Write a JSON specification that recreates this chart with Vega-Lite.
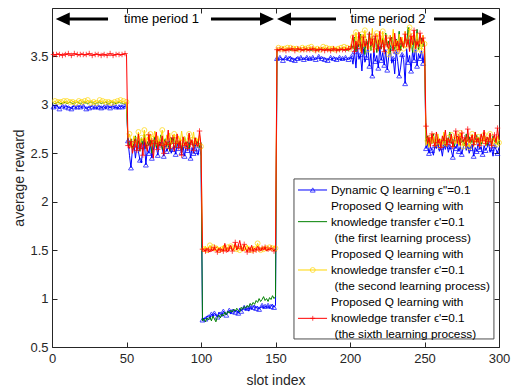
{
  "$schema": "https://vega.github.io/schema/vega-lite/v6.json",
  "width": 447,
  "height": 339,
  "autosize": {"type": "none"},
  "padding": {"left": 52, "top": 8, "right": 20, "bottom": 43},
  "background": "white",
  "config": {
    "view": {"stroke": null},
    "font": "Liberation Sans",
    "axis": {
      "grid": false,
      "domainColor": "#262626",
      "tickColor": "#262626",
      "labelColor": "#262626",
      "titleColor": "#262626",
      "labelFontSize": 13,
      "titleFontSize": 14,
      "titleFontWeight": "normal",
      "labelFont": "Liberation Sans",
      "titleFont": "Liberation Sans",
      "labelFlush": false,
      "labelOverlap": false,
      "zindex": 1
    }
  },
  "datasets": {
    "m": [
      {"x":1,"a":2.98,"b":3.02,"c":3.03,"d":3.52},{"x":2,"a":2.97,"b":3.01,"c":3.04,"d":3.51},{"x":3,"a":2.99,"b":3.02,"c":3.02,"d":3.52},{"x":4,"a":2.98,"b":3.03,"c":3.03,"d":3.53},{"x":5,"a":2.96,"b":3.02,"c":3.05,"d":3.52},
      {"x":6,"a":2.98,"b":3.01,"c":3.03,"d":3.52},{"x":7,"a":2.99,"b":3.02,"c":3.02,"d":3.51},{"x":8,"a":2.97,"b":3.02,"c":3.04,"d":3.53},{"x":9,"a":2.98,"b":3.03,"c":3.03,"d":3.52},{"x":10,"a":2.99,"b":3.01,"c":3.04,"d":3.52},
      {"x":11,"a":2.97,"b":3.02,"c":3.02,"d":3.53},{"x":12,"a":2.98,"b":3.03,"c":3.03,"d":3.52},{"x":13,"a":2.96,"b":3.02,"c":3.05,"d":3.51},{"x":14,"a":2.99,"b":3.01,"c":3.03,"d":3.52},{"x":15,"a":2.98,"b":3.02,"c":3.04,"d":3.53},
      {"x":16,"a":2.97,"b":3.02,"c":3.02,"d":3.52},{"x":17,"a":2.98,"b":3.03,"c":3.03,"d":3.52},{"x":18,"a":2.99,"b":3.02,"c":3.04,"d":3.51},{"x":19,"a":2.98,"b":3.01,"c":3.05,"d":3.52},{"x":20,"a":2.97,"b":3.02,"c":3.03,"d":3.53},
      {"x":21,"a":2.99,"b":3.03,"c":3.02,"d":3.52},{"x":22,"a":2.98,"b":3.02,"c":3.04,"d":3.51},{"x":23,"a":2.96,"b":3.02,"c":3.03,"d":3.52},{"x":24,"a":2.98,"b":3.01,"c":3.05,"d":3.52},{"x":25,"a":2.97,"b":3.02,"c":3.03,"d":3.53},
      {"x":26,"a":2.99,"b":3.03,"c":3.02,"d":3.52},{"x":27,"a":2.98,"b":3.02,"c":3.04,"d":3.51},{"x":28,"a":2.97,"b":3.02,"c":3.03,"d":3.52},{"x":29,"a":2.98,"b":3.01,"c":3.04,"d":3.52},{"x":30,"a":2.96,"b":3.02,"c":3.02,"d":3.53},
      {"x":31,"a":2.98,"b":3.02,"c":3.03,"d":3.52},{"x":32,"a":2.99,"b":3.03,"c":3.05,"d":3.52},{"x":33,"a":2.97,"b":3.01,"c":3.03,"d":3.51},{"x":34,"a":2.98,"b":3.02,"c":3.04,"d":3.53},{"x":35,"a":2.98,"b":3.02,"c":3.02,"d":3.52},
      {"x":36,"a":2.96,"b":3.03,"c":3.03,"d":3.52},{"x":37,"a":2.99,"b":3.02,"c":3.04,"d":3.51},{"x":38,"a":2.98,"b":3.01,"c":3.03,"d":3.52},{"x":39,"a":2.97,"b":3.02,"c":3.05,"d":3.53},{"x":40,"a":2.98,"b":3.03,"c":3.02,"d":3.52},
      {"x":41,"a":2.99,"b":3.02,"c":3.04,"d":3.51},{"x":42,"a":2.97,"b":3.02,"c":3.03,"d":3.52},{"x":43,"a":2.98,"b":3.01,"c":3.02,"d":3.52},{"x":44,"a":2.96,"b":3.02,"c":3.04,"d":3.53},{"x":45,"a":2.98,"b":3.03,"c":3.03,"d":3.52},
      {"x":46,"a":2.99,"b":3.02,"c":3.05,"d":3.51},{"x":47,"a":2.98,"b":3.02,"c":3.03,"d":3.52},{"x":48,"a":2.97,"b":3.01,"c":3.04,"d":3.52},{"x":49,"a":2.99,"b":3.02,"c":3.02,"d":3.53},{"x":50,"a":2.98,"b":3.02,"c":3.03,"d":3.52},
      {"x":51,"a":2.63,"b":2.62,"c":2.66,"d":2.58},{"x":52,"a":2.48,"b":2.58,"c":2.70,"d":2.55},{"x":53,"a":2.35,"b":2.65,"c":2.62,"d":2.62},{"x":54,"a":2.55,"b":2.55,"c":2.58,"d":2.50},{"x":55,"a":2.60,"b":2.60,"c":2.68,"d":2.57},
      {"x":56,"a":2.45,"b":2.68,"c":2.64,"d":2.65},{"x":57,"a":2.58,"b":2.57,"c":2.57,"d":2.53},{"x":58,"a":2.52,"b":2.63,"c":2.72,"d":2.70},{"x":59,"a":2.43,"b":2.52,"c":2.60,"d":2.55},{"x":60,"a":2.40,"b":2.66,"c":2.66,"d":2.61},
      {"x":61,"a":2.57,"b":2.59,"c":2.63,"d":2.48},{"x":62,"a":2.62,"b":2.70,"c":2.74,"d":2.66},{"x":63,"a":2.38,"b":2.55,"c":2.59,"d":2.58},{"x":64,"a":2.55,"b":2.62,"c":2.67,"d":2.52},{"x":65,"a":2.50,"b":2.58,"c":2.62,"d":2.69},
      {"x":66,"a":2.60,"b":2.64,"c":2.70,"d":2.57},{"x":67,"a":2.45,"b":2.50,"c":2.58,"d":2.63},{"x":68,"a":2.53,"b":2.61,"c":2.65,"d":2.45},{"x":69,"a":2.64,"b":2.67,"c":2.73,"d":2.60},{"x":70,"a":2.57,"b":2.56,"c":2.61,"d":2.72},
      {"x":71,"a":2.48,"b":2.63,"c":2.68,"d":2.54},{"x":72,"a":2.58,"b":2.58,"c":2.60,"d":2.62},{"x":73,"a":2.62,"b":2.69,"c":2.66,"d":2.58},{"x":74,"a":2.55,"b":2.54,"c":2.74,"d":2.68},{"x":75,"a":2.47,"b":2.61,"c":2.62,"d":2.50},
      {"x":76,"a":2.60,"b":2.65,"c":2.58,"d":2.63},{"x":77,"a":2.52,"b":2.57,"c":2.69,"d":2.59},{"x":78,"a":2.56,"b":2.62,"c":2.63,"d":2.74},{"x":79,"a":2.63,"b":2.52,"c":2.71,"d":2.55},{"x":80,"a":2.50,"b":2.66,"c":2.59,"d":2.61},
      {"x":81,"a":2.54,"b":2.60,"c":2.65,"d":2.66},{"x":82,"a":2.58,"b":2.68,"c":2.70,"d":2.52},{"x":83,"a":2.49,"b":2.56,"c":2.57,"d":2.60},{"x":84,"a":2.60,"b":2.63,"c":2.64,"d":2.70},{"x":85,"a":2.55,"b":2.59,"c":2.68,"d":2.56},
      {"x":86,"a":2.62,"b":2.65,"c":2.61,"d":2.63},{"x":87,"a":2.51,"b":2.53,"c":2.73,"d":2.48},{"x":88,"a":2.57,"b":2.61,"c":2.62,"d":2.67},{"x":89,"a":2.47,"b":2.67,"c":2.67,"d":2.58},{"x":90,"a":2.59,"b":2.58,"c":2.58,"d":2.62},
      {"x":91,"a":2.53,"b":2.62,"c":2.66,"d":2.55},{"x":92,"a":2.61,"b":2.55,"c":2.70,"d":2.71},{"x":93,"a":2.45,"b":2.64,"c":2.60,"d":2.59},{"x":94,"a":2.56,"b":2.60,"c":2.64,"d":2.64},{"x":95,"a":2.50,"b":2.57,"c":2.72,"d":2.53},
      {"x":96,"a":2.60,"b":2.66,"c":2.59,"d":2.66},{"x":97,"a":2.52,"b":2.59,"c":2.66,"d":2.60},{"x":98,"a":2.48,"b":2.63,"c":2.62,"d":2.57},{"x":99,"a":2.58,"b":2.56,"c":2.69,"d":2.73},{"x":100,"a":2.47,"b":2.61,"c":2.57,"d":2.58},
      {"x":101,"a":0.78,"b":0.77,"c":1.53,"d":1.51},{"x":102,"a":0.80,"b":0.79,"c":1.51,"d":1.50},{"x":103,"a":0.79,"b":0.76,"c":1.54,"d":1.49},{"x":104,"a":0.82,"b":0.80,"c":1.50,"d":1.52},{"x":105,"a":0.81,"b":0.78,"c":1.52,"d":1.50},
      {"x":106,"a":0.80,"b":0.81,"c":1.55,"d":1.48},{"x":107,"a":0.84,"b":0.77,"c":1.51,"d":1.51},{"x":108,"a":0.82,"b":0.82,"c":1.53,"d":1.49},{"x":109,"a":0.85,"b":0.79,"c":1.49,"d":1.53},{"x":110,"a":0.83,"b":0.76,"c":1.52,"d":1.50},
      {"x":111,"a":0.81,"b":0.81,"c":1.54,"d":1.48},{"x":112,"a":0.86,"b":0.83,"c":1.50,"d":1.52},{"x":113,"a":0.84,"b":0.80,"c":1.53,"d":1.50},{"x":114,"a":0.82,"b":0.84,"c":1.51,"d":1.51},{"x":115,"a":0.87,"b":0.82,"c":1.55,"d":1.49},
      {"x":116,"a":0.85,"b":0.86,"c":1.52,"d":1.57},{"x":117,"a":0.83,"b":0.83,"c":1.49,"d":1.50},{"x":118,"a":0.86,"b":0.87,"c":1.53,"d":1.48},{"x":119,"a":0.88,"b":0.85,"c":1.51,"d":1.52},{"x":120,"a":0.84,"b":0.88,"c":1.54,"d":1.55},
      {"x":121,"a":0.87,"b":0.86,"c":1.50,"d":1.49},{"x":122,"a":0.89,"b":0.89,"c":1.52,"d":1.51},{"x":123,"a":0.86,"b":0.87,"c":1.56,"d":1.58},{"x":124,"a":0.88,"b":0.90,"c":1.51,"d":1.50},{"x":125,"a":0.85,"b":0.88,"c":1.53,"d":1.54},
      {"x":126,"a":0.90,"b":0.86,"c":1.50,"d":1.60},{"x":127,"a":0.87,"b":0.91,"c":1.54,"d":1.52},{"x":128,"a":0.89,"b":0.89,"c":1.52,"d":1.49},{"x":129,"a":0.91,"b":0.92,"c":1.49,"d":1.56},{"x":130,"a":0.88,"b":0.90,"c":1.53,"d":1.51},
      {"x":131,"a":0.90,"b":0.93,"c":1.55,"d":1.48},{"x":132,"a":0.87,"b":0.91,"c":1.51,"d":1.53},{"x":133,"a":0.92,"b":0.95,"c":1.52,"d":1.50},{"x":134,"a":0.89,"b":0.93,"c":1.50,"d":1.55},{"x":135,"a":0.91,"b":0.96,"c":1.54,"d":1.49},
      {"x":136,"a":0.93,"b":0.94,"c":1.51,"d":1.52},{"x":137,"a":0.90,"b":0.98,"c":1.53,"d":1.50},{"x":138,"a":0.92,"b":0.96,"c":1.57,"d":1.54},{"x":139,"a":0.89,"b":1.00,"c":1.52,"d":1.51},{"x":140,"a":0.91,"b":0.97,"c":1.50,"d":1.49},
      {"x":141,"a":0.93,"b":0.99,"c":1.53,"d":1.52},{"x":142,"a":0.90,"b":1.02,"c":1.51,"d":1.50},{"x":143,"a":0.92,"b":0.98,"c":1.54,"d":1.53},{"x":144,"a":0.91,"b":1.00,"c":1.52,"d":1.49},{"x":145,"a":0.93,"b":0.97,"c":1.50,"d":1.51},
      {"x":146,"a":0.90,"b":1.01,"c":1.53,"d":1.50},{"x":147,"a":0.92,"b":0.99,"c":1.51,"d":1.52},{"x":148,"a":0.94,"b":1.03,"c":1.52,"d":1.51},{"x":149,"a":0.91,"b":1.00,"c":1.54,"d":1.49},{"x":150,"a":0.93,"b":1.02,"c":1.52,"d":1.52},
      {"x":151,"a":3.48,"b":3.57,"c":3.58,"d":3.57},{"x":152,"a":3.47,"b":3.56,"c":3.59,"d":3.56},{"x":153,"a":3.49,"b":3.57,"c":3.57,"d":3.57},{"x":154,"a":3.48,"b":3.58,"c":3.58,"d":3.58},{"x":155,"a":3.46,"b":3.57,"c":3.60,"d":3.57},
      {"x":156,"a":3.48,"b":3.56,"c":3.58,"d":3.57},{"x":157,"a":3.49,"b":3.57,"c":3.57,"d":3.56},{"x":158,"a":3.47,"b":3.57,"c":3.59,"d":3.58},{"x":159,"a":3.48,"b":3.58,"c":3.58,"d":3.57},{"x":160,"a":3.50,"b":3.56,"c":3.59,"d":3.57},
      {"x":161,"a":3.47,"b":3.57,"c":3.57,"d":3.58},{"x":162,"a":3.48,"b":3.58,"c":3.58,"d":3.57},{"x":163,"a":3.46,"b":3.57,"c":3.60,"d":3.56},{"x":164,"a":3.49,"b":3.56,"c":3.58,"d":3.57},{"x":165,"a":3.48,"b":3.57,"c":3.59,"d":3.58},
      {"x":166,"a":3.47,"b":3.57,"c":3.57,"d":3.57},{"x":167,"a":3.49,"b":3.58,"c":3.58,"d":3.57},{"x":168,"a":3.48,"b":3.57,"c":3.59,"d":3.56},{"x":169,"a":3.47,"b":3.56,"c":3.60,"d":3.57},{"x":170,"a":3.48,"b":3.57,"c":3.58,"d":3.58},
      {"x":171,"a":3.49,"b":3.58,"c":3.57,"d":3.57},{"x":172,"a":3.46,"b":3.57,"c":3.59,"d":3.56},{"x":173,"a":3.48,"b":3.57,"c":3.58,"d":3.57},{"x":174,"a":3.47,"b":3.56,"c":3.60,"d":3.57},{"x":175,"a":3.49,"b":3.57,"c":3.58,"d":3.58},
      {"x":176,"a":3.48,"b":3.58,"c":3.57,"d":3.57},{"x":177,"a":3.47,"b":3.57,"c":3.59,"d":3.56},{"x":178,"a":3.48,"b":3.57,"c":3.58,"d":3.57},{"x":179,"a":3.50,"b":3.56,"c":3.59,"d":3.57},{"x":180,"a":3.47,"b":3.57,"c":3.57,"d":3.58},
      {"x":181,"a":3.48,"b":3.57,"c":3.58,"d":3.57},{"x":182,"a":3.49,"b":3.58,"c":3.60,"d":3.57},{"x":183,"a":3.47,"b":3.56,"c":3.58,"d":3.56},{"x":184,"a":3.48,"b":3.57,"c":3.59,"d":3.58},{"x":185,"a":3.46,"b":3.57,"c":3.57,"d":3.57},
      {"x":186,"a":3.48,"b":3.58,"c":3.58,"d":3.57},{"x":187,"a":3.49,"b":3.57,"c":3.59,"d":3.56},{"x":188,"a":3.47,"b":3.56,"c":3.58,"d":3.57},{"x":189,"a":3.48,"b":3.57,"c":3.60,"d":3.58},{"x":190,"a":3.49,"b":3.58,"c":3.57,"d":3.57},
      {"x":191,"a":3.47,"b":3.57,"c":3.59,"d":3.56},{"x":192,"a":3.48,"b":3.57,"c":3.58,"d":3.57},{"x":193,"a":3.49,"b":3.56,"c":3.57,"d":3.57},{"x":194,"a":3.46,"b":3.57,"c":3.59,"d":3.58},{"x":195,"a":3.48,"b":3.58,"c":3.58,"d":3.57},
      {"x":196,"a":3.47,"b":3.57,"c":3.60,"d":3.56},{"x":197,"a":3.49,"b":3.57,"c":3.58,"d":3.57},{"x":198,"a":3.48,"b":3.56,"c":3.59,"d":3.57},{"x":199,"a":3.47,"b":3.57,"c":3.57,"d":3.58},{"x":200,"a":3.48,"b":3.57,"c":3.58,"d":3.57},
      {"x":201,"a":3.50,"b":3.62,"c":3.65,"d":3.60},{"x":202,"a":3.42,"b":3.58,"c":3.70,"d":3.72},{"x":203,"a":3.55,"b":3.70,"c":3.58,"d":3.55},{"x":204,"a":3.38,"b":3.55,"c":3.75,"d":3.66},{"x":205,"a":3.60,"b":3.65,"c":3.62,"d":3.58},
      {"x":206,"a":3.47,"b":3.60,"c":3.68,"d":3.75},{"x":207,"a":3.52,"b":3.73,"c":3.55,"d":3.62},{"x":208,"a":3.35,"b":3.57,"c":3.73,"d":3.53},{"x":209,"a":3.58,"b":3.66,"c":3.60,"d":3.70},{"x":210,"a":3.44,"b":3.52,"c":3.77,"d":3.60},
      {"x":211,"a":3.49,"b":3.68,"c":3.64,"d":3.65},{"x":212,"a":3.62,"b":3.61,"c":3.57,"d":3.57},{"x":213,"a":3.40,"b":3.75,"c":3.71,"d":3.73},{"x":214,"a":3.53,"b":3.56,"c":3.62,"d":3.61},{"x":215,"a":3.30,"b":3.64,"c":3.79,"d":3.68},
      {"x":216,"a":3.56,"b":3.59,"c":3.59,"d":3.54},{"x":217,"a":3.45,"b":3.71,"c":3.67,"d":3.71},{"x":218,"a":3.51,"b":3.54,"c":3.74,"d":3.63},{"x":219,"a":3.38,"b":3.67,"c":3.56,"d":3.58},{"x":220,"a":3.60,"b":3.62,"c":3.69,"d":3.76},
      {"x":221,"a":3.46,"b":3.58,"c":3.63,"d":3.60},{"x":222,"a":3.54,"b":3.69,"c":3.76,"d":3.67},{"x":223,"a":3.41,"b":3.55,"c":3.58,"d":3.55},{"x":224,"a":3.57,"b":3.74,"c":3.70,"d":3.72},{"x":225,"a":3.36,"b":3.60,"c":3.65,"d":3.62},
      {"x":226,"a":3.50,"b":3.66,"c":3.52,"d":3.58},{"x":227,"a":3.59,"b":3.53,"c":3.72,"d":3.69},{"x":228,"a":3.43,"b":3.70,"c":3.61,"d":3.64},{"x":229,"a":3.48,"b":3.63,"c":3.78,"d":3.56},{"x":230,"a":3.32,"b":3.57,"c":3.60,"d":3.74},
      {"x":231,"a":3.55,"b":3.68,"c":3.67,"d":3.61},{"x":232,"a":3.45,"b":3.61,"c":3.55,"d":3.66},{"x":233,"a":3.30,"b":3.76,"c":3.73,"d":3.57},{"x":234,"a":3.39,"b":3.56,"c":3.64,"d":3.70},{"x":235,"a":3.52,"b":3.65,"c":3.70,"d":3.63},
      {"x":236,"a":3.47,"b":3.59,"c":3.58,"d":3.59},{"x":237,"a":3.22,"b":3.72,"c":3.76,"d":3.73},{"x":238,"a":3.58,"b":3.62,"c":3.62,"d":3.60},{"x":239,"a":3.44,"b":3.80,"c":3.68,"d":3.67},{"x":240,"a":3.51,"b":3.58,"c":3.80,"d":3.55},
      {"x":241,"a":3.35,"b":3.66,"c":3.59,"d":3.71},{"x":242,"a":3.56,"b":3.54,"c":3.71,"d":3.62},{"x":243,"a":3.46,"b":3.70,"c":3.65,"d":3.77},{"x":244,"a":3.62,"b":3.61,"c":3.57,"d":3.58},{"x":245,"a":3.40,"b":3.78,"c":3.74,"d":3.65},
      {"x":246,"a":3.53,"b":3.57,"c":3.62,"d":3.60},{"x":247,"a":3.48,"b":3.64,"c":3.69,"d":3.74},{"x":248,"a":3.57,"b":3.69,"c":3.56,"d":3.63},{"x":249,"a":3.43,"b":3.60,"c":3.72,"d":3.69},{"x":250,"a":3.55,"b":3.65,"c":3.63,"d":3.61},
      {"x":251,"a":2.55,"b":2.62,"c":2.58,"d":2.78},{"x":252,"a":2.60,"b":2.68,"c":2.63,"d":2.60},{"x":253,"a":2.50,"b":2.58,"c":2.56,"d":2.66},{"x":254,"a":2.57,"b":2.65,"c":2.66,"d":2.57},{"x":255,"a":2.53,"b":2.60,"c":2.60,"d":2.70},
      {"x":256,"a":2.48,"b":2.70,"c":2.68,"d":2.62},{"x":257,"a":2.58,"b":2.57,"c":2.57,"d":2.58},{"x":258,"a":2.55,"b":2.63,"c":2.62,"d":2.72},{"x":259,"a":2.61,"b":2.67,"c":2.70,"d":2.61},{"x":260,"a":2.52,"b":2.59,"c":2.58,"d":2.65},
      {"x":261,"a":2.56,"b":2.64,"c":2.65,"d":2.56},{"x":262,"a":2.47,"b":2.61,"c":2.59,"d":2.68},{"x":263,"a":2.59,"b":2.69,"c":2.72,"d":2.63},{"x":264,"a":2.54,"b":2.58,"c":2.61,"d":2.74},{"x":265,"a":2.60,"b":2.66,"c":2.57,"d":2.59},
      {"x":266,"a":2.51,"b":2.62,"c":2.66,"d":2.66},{"x":267,"a":2.57,"b":2.72,"c":2.62,"d":2.61},{"x":268,"a":2.53,"b":2.60,"c":2.69,"d":2.70},{"x":269,"a":2.46,"b":2.65,"c":2.56,"d":2.57},{"x":270,"a":2.58,"b":2.57,"c":2.64,"d":2.64},
      {"x":271,"a":2.55,"b":2.63,"c":2.60,"d":2.73},{"x":272,"a":2.60,"b":2.68,"c":2.67,"d":2.60},{"x":273,"a":2.52,"b":2.59,"c":2.58,"d":2.67},{"x":274,"a":2.57,"b":2.66,"c":2.71,"d":2.58},{"x":275,"a":2.49,"b":2.61,"c":2.62,"d":2.71},
      {"x":276,"a":2.56,"b":2.64,"c":2.57,"d":2.62},{"x":277,"a":2.61,"b":2.58,"c":2.65,"d":2.66},{"x":278,"a":2.53,"b":2.70,"c":2.60,"d":2.57},{"x":279,"a":2.58,"b":2.62,"c":2.68,"d":2.75},{"x":280,"a":2.50,"b":2.67,"c":2.56,"d":2.61},
      {"x":281,"a":2.55,"b":2.60,"c":2.63,"d":2.64},{"x":282,"a":2.59,"b":2.65,"c":2.70,"d":2.69},{"x":283,"a":2.47,"b":2.58,"c":2.59,"d":2.59},{"x":284,"a":2.56,"b":2.63,"c":2.64,"d":2.72},{"x":285,"a":2.52,"b":2.69,"c":2.61,"d":2.62},
      {"x":286,"a":2.60,"b":2.61,"c":2.67,"d":2.66},{"x":287,"a":2.54,"b":2.66,"c":2.57,"d":2.58},{"x":288,"a":2.57,"b":2.59,"c":2.65,"d":2.70},{"x":289,"a":2.49,"b":2.64,"c":2.60,"d":2.63},{"x":290,"a":2.58,"b":2.71,"c":2.69,"d":2.74},
      {"x":291,"a":2.53,"b":2.62,"c":2.58,"d":2.60},{"x":292,"a":2.56,"b":2.58,"c":2.64,"d":2.67},{"x":293,"a":2.61,"b":2.66,"c":2.62,"d":2.62},{"x":294,"a":2.51,"b":2.63,"c":2.70,"d":2.71},{"x":295,"a":2.55,"b":2.60,"c":2.57,"d":2.58},
      {"x":296,"a":2.47,"b":2.68,"c":2.63,"d":2.65},{"x":297,"a":2.58,"b":2.62,"c":2.66,"d":2.69},{"x":298,"a":2.54,"b":2.65,"c":2.59,"d":2.61},{"x":299,"a":2.50,"b":2.59,"c":2.68,"d":2.76},{"x":300,"a":2.56,"b":2.64,"c":2.61,"d":2.64}
    ],
    "legtext": [
      {"t": "Dynamic Q learning ϵ\"=0.1", "x": 187.2, "y": 2.121},
      {"t": "Proposed Q learning with", "x": 187.2, "y": 1.959},
      {"t": "knowledge transfer ϵ'=0.1", "x": 187.2, "y": 1.794},
      {"t": "(the first learning process)", "x": 189.6, "y": 1.629},
      {"t": "Proposed Q learning with", "x": 187.2, "y": 1.46},
      {"t": "knowledge transfer ϵ'=0.1", "x": 187.2, "y": 1.295},
      {"t": "(the second learning process)", "x": 189.6, "y": 1.13},
      {"t": "Proposed Q learning with", "x": 187.2, "y": 0.962},
      {"t": "knowledge transfer ϵ'=0.1", "x": 187.2, "y": 0.796},
      {"t": "(the sixth learning process)", "x": 189.6, "y": 0.631}
    ],
    "legline": [
      {"s": "a", "x": 165.1, "x2": 184.6, "xm": 175, "y": 2.121},
      {"s": "b", "x": 165.1, "x2": 184.6, "xm": 175, "y": 1.794},
      {"s": "c", "x": 165.1, "x2": 184.6, "xm": 175, "y": 1.295},
      {"s": "d", "x": 165.1, "x2": 184.6, "xm": 175, "y": 0.796}
    ],
    "legbox": [{"x": 162.4, "x2": 296.6, "y": 2.235, "y2": 0.583}],
    "arrline": [
      {"x": 6, "x2": 37.6, "y": 3.886},
      {"x": 106.7, "x2": 145, "y": 3.886},
      {"x": 155, "x2": 190.6, "y": 3.886},
      {"x": 256.4, "x2": 294, "y": 3.886}
    ],
    "arrhead": [
      {"x": 2.5, "dir": "L", "y": 3.886},
      {"x": 149, "dir": "R", "y": 3.886},
      {"x": 151, "dir": "L", "y": 3.886},
      {"x": 298, "dir": "R", "y": 3.886}
    ],
    "arrtext": [
      {"t": "time period 1", "x": 73.5, "y": 3.886},
      {"t": "time period 2", "x": 225.5, "y": 3.886}
    ]
  },
  "resolve": {"axis": {"x": "independent", "y": "independent"}},
  "layer": [
    {
      "data": {"name": "m"},
      "transform": [{"fold": ["a"], "as": ["s", "y"]}],
      "mark": {"type": "line", "strokeWidth": 1},
      "encoding": {
        "x": {"field": "x", "type": "quantitative", "scale": {"domain": [0, 300], "nice": false},
          "axis": {"orient": "bottom", "values": [0, 50, 100, 150, 200, 250, 300], "title": "slot index", "tickSize": -5, "labelPadding": 10, "titlePadding": 8}},
        "y": {"field": "y", "type": "quantitative", "scale": {"domain": [0.5, 4], "nice": false, "zero": false},
          "axis": {"orient": "left", "values": [0.5, 1, 1.5, 2, 2.5, 3, 3.5], "format": "~g", "title": "average reward", "tickSize": -5, "labelPadding": 9, "titlePadding": 3}},
        "color": {"field": "s", "type": "nominal", "scale": {"domain": ["a", "b", "c", "d"], "range": ["#0000ff", "#008000", "#ffd700", "#ff0000"]}, "legend": null}
      }
    },
    {
      "data": {"name": "m"},
      "transform": [{"fold": ["a"], "as": ["s", "y"]}, {"filter": "datum.x % 2 == 1"}],
      "mark": {"type": "point", "filled": false, "size": 24, "strokeWidth": 1},
      "encoding": {
        "x": {"field": "x", "type": "quantitative", "scale": {"domain": [0, 300], "nice": false},
          "axis": {"orient": "top", "values": [0, 50, 100, 150, 200, 250, 300], "labels": false, "title": null, "tickSize": -5}},
        "y": {"field": "y", "type": "quantitative", "scale": {"domain": [0.5, 4], "nice": false, "zero": false},
          "axis": {"orient": "right", "values": [0.5, 1, 1.5, 2, 2.5, 3, 3.5], "labels": false, "title": null, "tickSize": -5}},
        "color": {"field": "s", "type": "nominal", "legend": null},
        "shape": {"field": "s", "type": "nominal", "scale": {"domain": ["a", "c", "d"], "range": ["triangle-up", "circle", "M-1,0L1,0M0,-1L0,1"]}, "legend": null}
      }
    },
    {
      "data": {"name": "m"},
      "transform": [{"fold": ["b"], "as": ["s", "y"]}],
      "mark": {"type": "line", "strokeWidth": 1},
      "encoding": {
        "x": {"field": "x", "type": "quantitative", "axis": null},
        "y": {"field": "y", "type": "quantitative", "axis": null},
        "color": {"field": "s", "type": "nominal", "legend": null}
      }
    },
    {
      "data": {"name": "m"},
      "transform": [{"fold": ["c"], "as": ["s", "y"]}],
      "mark": {"type": "line", "strokeWidth": 1},
      "encoding": {
        "x": {"field": "x", "type": "quantitative", "axis": null},
        "y": {"field": "y", "type": "quantitative", "axis": null},
        "color": {"field": "s", "type": "nominal", "legend": null}
      }
    },
    {
      "data": {"name": "m"},
      "transform": [{"fold": ["c"], "as": ["s", "y"]}, {"filter": "datum.x % 2 == 0"}],
      "mark": {"type": "point", "filled": false, "size": 24, "strokeWidth": 1},
      "encoding": {
        "x": {"field": "x", "type": "quantitative", "axis": null},
        "y": {"field": "y", "type": "quantitative", "axis": null},
        "color": {"field": "s", "type": "nominal", "legend": null},
        "shape": {"field": "s", "type": "nominal", "legend": null}
      }
    },
    {
      "data": {"name": "m"},
      "transform": [{"fold": ["d"], "as": ["s", "y"]}],
      "mark": {"type": "line", "strokeWidth": 1},
      "encoding": {
        "x": {"field": "x", "type": "quantitative", "axis": null},
        "y": {"field": "y", "type": "quantitative", "axis": null},
        "color": {"field": "s", "type": "nominal", "legend": null}
      }
    },
    {
      "data": {"name": "m"},
      "transform": [{"fold": ["d"], "as": ["s", "y"]}, {"filter": "datum.x % 2 == 1"}],
      "mark": {"type": "point", "filled": false, "size": 30, "strokeWidth": 1},
      "encoding": {
        "x": {"field": "x", "type": "quantitative", "axis": null},
        "y": {"field": "y", "type": "quantitative", "axis": null},
        "color": {"field": "s", "type": "nominal", "legend": null},
        "shape": {"field": "s", "type": "nominal", "legend": null}
      }
    },
    {
      "data": {"name": "legbox"},
      "mark": {"type": "rect", "fill": "white", "stroke": "#4d4d4d", "strokeWidth": 1},
      "encoding": {
        "x": {"field": "x", "type": "quantitative", "axis": null},
        "x2": {"field": "x2"},
        "y": {"field": "y", "type": "quantitative", "axis": null},
        "y2": {"field": "y2"}
      }
    },
    {
      "data": {"name": "legline"},
      "mark": {"type": "rule", "strokeWidth": 1},
      "encoding": {
        "x": {"field": "x", "type": "quantitative", "axis": null},
        "x2": {"field": "x2"},
        "y": {"field": "y", "type": "quantitative", "axis": null},
        "color": {"field": "s", "type": "nominal", "legend": null}
      }
    },
    {
      "data": {"name": "legline"},
      "transform": [{"filter": "datum.s != 'b'"}],
      "mark": {"type": "point", "filled": false, "size": 24, "strokeWidth": 1},
      "encoding": {
        "x": {"field": "xm", "type": "quantitative", "axis": null},
        "y": {"field": "y", "type": "quantitative", "axis": null},
        "color": {"field": "s", "type": "nominal", "legend": null},
        "shape": {"field": "s", "type": "nominal", "legend": null}
      }
    },
    {
      "data": {"name": "legtext"},
      "mark": {"type": "text", "align": "left", "baseline": "middle", "fontSize": 11.8, "color": "#000000", "font": "Liberation Sans"},
      "encoding": {
        "x": {"field": "x", "type": "quantitative", "axis": null},
        "y": {"field": "y", "type": "quantitative", "axis": null},
        "text": {"field": "t"}
      }
    },
    {
      "data": {"name": "arrline"},
      "mark": {"type": "rule", "strokeWidth": 3, "color": "#000000"},
      "encoding": {
        "x": {"field": "x", "type": "quantitative", "axis": null},
        "x2": {"field": "x2"},
        "y": {"field": "y", "type": "quantitative", "axis": null}
      }
    },
    {
      "data": {"name": "arrhead"},
      "transform": [{"filter": "datum.dir == 'L'"}],
      "mark": {"type": "point", "shape": "M0,0L2,-0.93L2,0.93Z", "size": 196, "filled": true, "color": "#000000", "opacity": 1},
      "encoding": {
        "x": {"field": "x", "type": "quantitative", "axis": null},
        "y": {"field": "y", "type": "quantitative", "axis": null}
      }
    },
    {
      "data": {"name": "arrhead"},
      "transform": [{"filter": "datum.dir == 'R'"}],
      "mark": {"type": "point", "shape": "M0,0L-2,-0.93L-2,0.93Z", "size": 196, "filled": true, "color": "#000000", "opacity": 1},
      "encoding": {
        "x": {"field": "x", "type": "quantitative", "axis": null},
        "y": {"field": "y", "type": "quantitative", "axis": null}
      }
    },
    {
      "data": {"name": "arrtext"},
      "mark": {"type": "text", "align": "center", "baseline": "middle", "fontSize": 13, "color": "#000000", "font": "Liberation Sans"},
      "encoding": {
        "x": {"field": "x", "type": "quantitative", "axis": null},
        "y": {"field": "y", "type": "quantitative", "axis": null},
        "text": {"field": "t"}
      }
    }
  ]
}
